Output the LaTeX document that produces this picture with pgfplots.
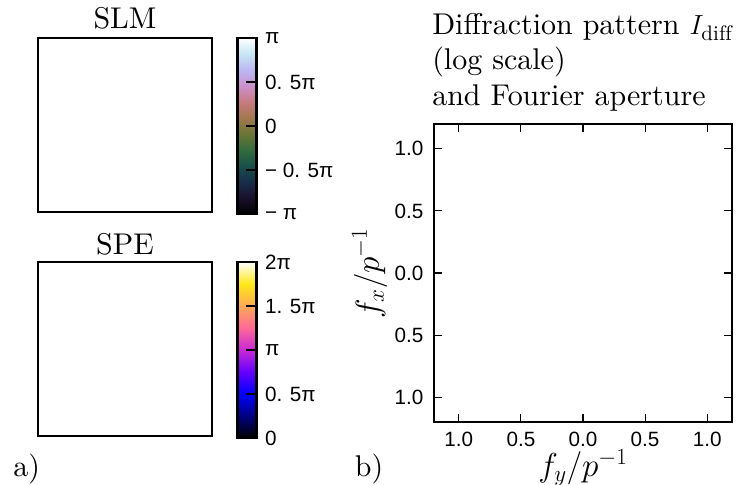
\documentclass[border=0pt]{standalone}
\usepackage{fontspec}
\setmainfont{lmroman10-regular.otf}[ItalicFont=lmroman10-italic.otf, BoldFont=lmroman10-bold.otf]
\usepackage{pgfplots}
\pgfplotsset{compat=1.18}
\newfontfamily\tickfont{Liberation Sans}
\newcommand\tk{\tickfont\fontsize{15.5}{18}\selectfont}
\newcommand\bigtext{\fontsize{22.5}{26}\selectfont}

% approximations of matplotlib cubehelix and gnuplot2
\pgfplotsset{
  colormap={cubehelix}{
    rgb=(0,0,0) rgb=(0.10,0.06,0.17) rgb=(0.09,0.18,0.29) rgb=(0.09,0.31,0.29)
    rgb=(0.20,0.42,0.24) rgb=(0.42,0.46,0.21) rgb=(0.63,0.47,0.31) rgb=(0.78,0.48,0.50)
    rgb=(0.80,0.56,0.80) rgb=(0.74,0.72,0.95) rgb=(0.78,0.90,0.96) rgb=(1,1,1)},
  colormap={gnuplottwo}{
    rgb=(0,0,0) rgb=(0,0,0.5) rgb=(0,0,1) rgb=(0.39,0,1) rgb=(0.78,0.16,0.84)
    rgb=(1,0.41,0.59) rgb=(1,0.66,0.34) rgb=(1,0.91,0.09) rgb=(1,1,1)},
  phasebox/.style={
    scale only axis, width=130.5pt, height=130.5pt,
    xmin=0, xmax=1, ymin=0, ymax=1,
    xtick=\empty, ytick=\empty,
    axis line style={line width=2pt},
    colorbar,
    colorbar/width=14.25pt,
    colorbar shift/.style={xshift=18pt},
  },
  barstyle/.style={
    colorbar style={
      height=132pt,
      axis line style={line width=2pt, black},
      ytick pos=right, tick align=inside, major tick length=8pt,
      tick style={line width=0.8pt, black},
      yticklabel style={font=\tk, xshift=3pt},
      #1}},
}

\begin{document}
\begin{tikzpicture}
\useasboundingbox (0pt,0pt) rectangle (552pt,-363.75pt);

\begin{axis}[phasebox, at={(28.5pt,-28.5pt)}, anchor=north west,
  colormap name=cubehelix,
  point meta min=-3.14159, point meta max=3.14159,
  barstyle={ytick={-3.14159,-1.5708,0,1.5708,3.14159},
    yticklabels={{\tk − π}, {\tk − 0. 5π}, {\tk 0}, {\tk 0. 5π}, {\tk π}}}]
\end{axis}

\begin{axis}[phasebox, at={(28.5pt,-196.5pt)}, anchor=north west,
  colormap name=gnuplottwo,
  point meta min=0, point meta max=6.28319,
  barstyle={ytick={0,1.5708,3.14159,4.71239,6.28319},
    yticklabels={{\tk 0}, {\tk 0. 5π}, {\tk π}, {\tk 1. 5π}, {\tk 2π}}}]
\end{axis}

\begin{axis}[at={(325.5pt,-93pt)}, anchor=north west,
  scale only axis, width=223.5pt, height=223.5pt,
  xmin=-1.2, xmax=1.2, ymin=-1.2, ymax=1.2,
  xtick={-1,-0.5,0,0.5,1}, ytick={-1,-0.5,0,0.5,1},
  xticklabels={1.0,0.5,0.0,0.5,1.0},
  yticklabels={1.0,0.5,0.0,0.5,1.0},
  tick align=inside, major tick length=6pt,
  tick style={line width=0.8pt, black},
  axis line style={line width=2pt},
  xticklabel style={font=\tk, yshift=-4pt},
  yticklabel style={font=\tk, xshift=-4.5pt},
  xlabel={$f_y/p^{-1}$}, ylabel={$f_x/p^{-1}$},
  xlabel style={font=\fontsize{23}{27}\selectfont, at={(axis description cs:0.5,-0.182)}, anchor=base},
  ylabel style={font=\fontsize{23}{27}\selectfont, at={(axis description cs:-0.185,0.5)}, anchor=base}]
\end{axis}

\begin{scope}[font=\bigtext]
\node[anchor=base, inner sep=0pt] at (93.75pt,-21.75pt) {SLM};
\node[anchor=base, inner sep=0pt] at (93.75pt,-190.5pt) {SPE};
\node[anchor=base west, inner sep=0pt] at (324pt,-26.25pt) {Diffraction pattern $I_{\mathrm{diff}}$};
\node[anchor=base west, inner sep=0pt] at (324pt,-52.5pt) {(log scale)};
\node[anchor=base west, inner sep=0pt] at (324pt,-79.5pt) {and Fourier aperture};
\node[anchor=base west, inner sep=0pt] at (9.75pt,-357.5pt) {a)};
\node[anchor=base west, inner sep=0pt] at (266pt,-357.5pt) {b)};
\end{scope}

\end{tikzpicture}
\end{document}
